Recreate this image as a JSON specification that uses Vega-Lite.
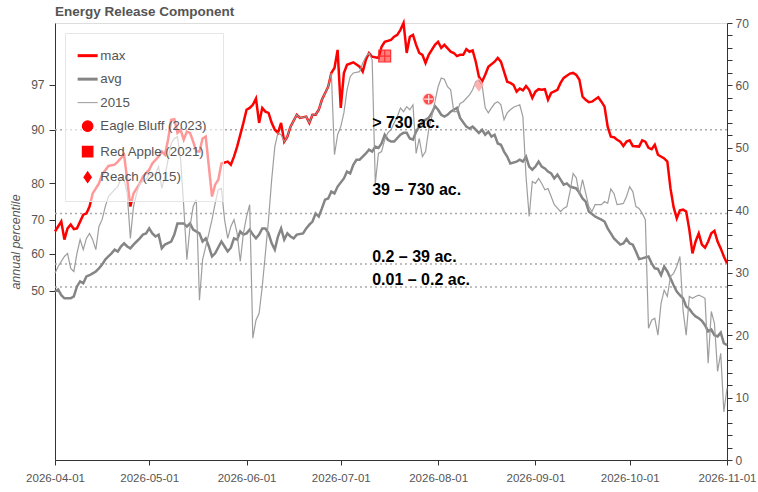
{
"$schema": "https://vega.github.io/schema/vega-lite/v6.json",
"autosize": {"type": "none"},
"padding": {"left": 55, "top": 23, "right": 31, "bottom": 32},
"width": 672,
"height": 437,
"title": {"text": "Energy Release Component", "anchor": "start", "frame": "group", "fontSize": 13.5, "fontWeight": "bold", "color": "#555555", "offset": 6, "dy": 7, "font": "Liberation Sans"},
"config": {
  "view": {"stroke": "#dddddd"},
  "font": "Liberation Sans",
  "axis": {"labelFont": "Liberation Sans", "titleFont": "Liberation Sans", "labelColor": "#555555", "domainColor": "#333333", "tickColor": "#333333", "grid": false}
},
"datasets": {
  "thresholds": [{"erc": 52.9}, {"erc": 39.5}, {"erc": 31.4}, {"erc": 27.7}],
  "labels": [
    {"date": "2026-07-11", "erc": 53.15, "label": "> 730  ac."},
    {"date": "2026-07-11", "erc": 42.5, "label": "39 – 730 ac."},
    {"date": "2026-07-11", "erc": 31.7, "label": "0.2 – 39 ac."},
    {"date": "2026-07-11", "erc": 28.0, "label": "0.01 – 0.2 ac."}
  ],
  "fires": [
    {"date": "2026-07-29", "series": "Eagle Bluff (2023)", "erc": 57.8},
    {"date": "2026-07-15", "series": "Red Apple (2021)", "erc": 64.7},
    {"date": "2026-08-14", "series": "Reach (2015)", "erc": 60.1}
  ],
  "lines": [
{"date":"2026-04-01","series":"max","erc":36.6},{"date":"2026-04-03","series":"max","erc":38.2},{"date":"2026-04-04","series":"max","erc":35.3},{"date":"2026-04-05","series":"max","erc":37.1},{"date":"2026-04-06","series":"max","erc":37.7},{"date":"2026-04-07","series":"max","erc":37.0},{"date":"2026-04-08","series":"max","erc":37.1},{"date":"2026-04-10","series":"max","erc":39.3},{"date":"2026-04-11","series":"max","erc":39.5},{"date":"2026-04-12","series":"max","erc":40.6},{"date":"2026-04-13","series":"max","erc":42.7},{"date":"2026-04-15","series":"max","erc":44.3},{"date":"2026-04-16","series":"max","erc":45.7},{"date":"2026-04-18","series":"max","erc":47.1},{"date":"2026-04-20","series":"max","erc":47.3},{"date":"2026-04-21","series":"max","erc":47.8},{"date":"2026-04-23","series":"max","erc":48.9},{"date":"2026-04-24","series":"max","erc":44.9},{"date":"2026-04-25","series":"max","erc":40.6},{"date":"2026-04-26","series":"max","erc":42.7},{"date":"2026-04-28","series":"max","erc":44.3},{"date":"2026-04-29","series":"max","erc":45.4},
{"date":"2026-05-01","series":"max","erc":46.5},{"date":"2026-05-02","series":"max","erc":47.5},{"date":"2026-05-04","series":"max","erc":48.6},{"date":"2026-05-05","series":"max","erc":49.4},{"date":"2026-05-06","series":"max","erc":48.9},{"date":"2026-05-07","series":"max","erc":51.3},{"date":"2026-05-08","series":"max","erc":54.5},{"date":"2026-05-09","series":"max","erc":54.6},{"date":"2026-05-10","series":"max","erc":52.4},{"date":"2026-05-11","series":"max","erc":52.9},{"date":"2026-05-12","series":"max","erc":51.3},{"date":"2026-05-13","series":"max","erc":52.6},{"date":"2026-05-14","series":"max","erc":52.4},{"date":"2026-05-15","series":"max","erc":51.0},{"date":"2026-05-16","series":"max","erc":49.4},{"date":"2026-05-17","series":"max","erc":49.4},{"date":"2026-05-18","series":"max","erc":51.5},{"date":"2026-05-19","series":"max","erc":51.8},{"date":"2026-05-20","series":"max","erc":47.0},{"date":"2026-05-21","series":"max","erc":42.2},{"date":"2026-05-22","series":"max","erc":44.1},{"date":"2026-05-23","series":"max","erc":44.9},{"date":"2026-05-24","series":"max","erc":47.5},{"date":"2026-05-26","series":"max","erc":47.8},{"date":"2026-05-27","series":"max","erc":47.3},{"date":"2026-05-28","series":"max","erc":48.6},{"date":"2026-05-29","series":"max","erc":50.2},{"date":"2026-05-31","series":"max","erc":54.0},
{"date":"2026-06-01","series":"max","erc":56.1},{"date":"2026-06-02","series":"max","erc":56.4},{"date":"2026-06-03","series":"max","erc":56.9},{"date":"2026-06-04","series":"max","erc":57.9},{"date":"2026-06-05","series":"max","erc":54.0},{"date":"2026-06-06","series":"max","erc":56.4},{"date":"2026-06-07","series":"max","erc":55.8},{"date":"2026-06-08","series":"max","erc":55.6},{"date":"2026-06-09","series":"max","erc":54.0},{"date":"2026-06-10","series":"max","erc":52.9},{"date":"2026-06-11","series":"max","erc":52.4},{"date":"2026-06-12","series":"max","erc":54.0},{"date":"2026-06-13","series":"max","erc":51.0},{"date":"2026-06-14","series":"max","erc":51.8},{"date":"2026-06-15","series":"max","erc":53.4},{"date":"2026-06-17","series":"max","erc":55.3},{"date":"2026-06-18","series":"max","erc":54.8},{"date":"2026-06-20","series":"max","erc":55.0},{"date":"2026-06-21","series":"max","erc":54.0},{"date":"2026-06-22","series":"max","erc":55.3},{"date":"2026-06-23","series":"max","erc":55.3},{"date":"2026-06-24","series":"max","erc":56.1},{"date":"2026-06-25","series":"max","erc":57.7},{"date":"2026-06-27","series":"max","erc":59.8},{"date":"2026-06-28","series":"max","erc":62.0},{"date":"2026-06-29","series":"max","erc":62.8},{"date":"2026-06-30","series":"max","erc":65.7},
{"date":"2026-07-01","series":"max","erc":56.4},{"date":"2026-07-02","series":"max","erc":62.0},{"date":"2026-07-03","series":"max","erc":63.3},{"date":"2026-07-05","series":"max","erc":63.7},{"date":"2026-07-07","series":"max","erc":63.0},{"date":"2026-07-08","series":"max","erc":62.2},{"date":"2026-07-09","series":"max","erc":64.1},{"date":"2026-07-10","series":"max","erc":65.2},{"date":"2026-07-11","series":"max","erc":64.6},{"date":"2026-07-13","series":"max","erc":64.4},{"date":"2026-07-14","series":"max","erc":66.2},{"date":"2026-07-15","series":"max","erc":67.0},{"date":"2026-07-17","series":"max","erc":67.3},{"date":"2026-07-18","series":"max","erc":67.8},{"date":"2026-07-19","series":"max","erc":68.1},{"date":"2026-07-20","series":"max","erc":68.9},{"date":"2026-07-21","series":"max","erc":70.0},{"date":"2026-07-22","series":"max","erc":65.2},{"date":"2026-07-23","series":"max","erc":67.8},{"date":"2026-07-24","series":"max","erc":68.1},{"date":"2026-07-25","series":"max","erc":66.5},{"date":"2026-07-26","series":"max","erc":65.2},{"date":"2026-07-27","series":"max","erc":64.9},{"date":"2026-07-28","series":"max","erc":63.6},{"date":"2026-07-29","series":"max","erc":64.9},{"date":"2026-07-31","series":"max","erc":66.5},
{"date":"2026-08-01","series":"max","erc":67.0},{"date":"2026-08-02","series":"max","erc":66.0},{"date":"2026-08-03","series":"max","erc":66.5},{"date":"2026-08-05","series":"max","erc":65.4},{"date":"2026-08-06","series":"max","erc":65.2},{"date":"2026-08-07","series":"max","erc":64.7},{"date":"2026-08-08","series":"max","erc":64.9},{"date":"2026-08-09","series":"max","erc":64.9},{"date":"2026-08-10","series":"max","erc":65.8},{"date":"2026-08-11","series":"max","erc":65.4},{"date":"2026-08-12","series":"max","erc":65.6},{"date":"2026-08-13","series":"max","erc":63.8},{"date":"2026-08-14","series":"max","erc":61.4},{"date":"2026-08-15","series":"max","erc":60.6},{"date":"2026-08-16","series":"max","erc":61.7},{"date":"2026-08-17","series":"max","erc":63.0},{"date":"2026-08-19","series":"max","erc":63.8},{"date":"2026-08-20","series":"max","erc":64.4},{"date":"2026-08-21","series":"max","erc":63.8},{"date":"2026-08-22","series":"max","erc":62.2},{"date":"2026-08-23","series":"max","erc":60.6},{"date":"2026-08-24","series":"max","erc":60.4},{"date":"2026-08-25","series":"max","erc":60.1},{"date":"2026-08-26","series":"max","erc":59.0},{"date":"2026-08-27","series":"max","erc":59.5},{"date":"2026-08-28","series":"max","erc":59.2},{"date":"2026-08-29","series":"max","erc":59.9},{"date":"2026-08-30","series":"max","erc":59.3},{"date":"2026-08-31","series":"max","erc":58.0},
{"date":"2026-09-01","series":"max","erc":59.0},{"date":"2026-09-02","series":"max","erc":59.4},{"date":"2026-09-03","series":"max","erc":59.3},{"date":"2026-09-04","series":"max","erc":59.4},{"date":"2026-09-05","series":"max","erc":57.7},{"date":"2026-09-06","series":"max","erc":58.8},{"date":"2026-09-08","series":"max","erc":59.3},{"date":"2026-09-09","series":"max","erc":60.4},{"date":"2026-09-10","series":"max","erc":61.2},{"date":"2026-09-12","series":"max","erc":61.9},{"date":"2026-09-13","series":"max","erc":62.0},{"date":"2026-09-14","series":"max","erc":61.7},{"date":"2026-09-15","series":"max","erc":60.9},{"date":"2026-09-16","series":"max","erc":58.2},{"date":"2026-09-17","series":"max","erc":57.7},{"date":"2026-09-18","series":"max","erc":57.3},{"date":"2026-09-19","series":"max","erc":57.4},{"date":"2026-09-21","series":"max","erc":58.1},{"date":"2026-09-22","series":"max","erc":57.4},{"date":"2026-09-23","series":"max","erc":56.6},{"date":"2026-09-24","series":"max","erc":53.4},{"date":"2026-09-25","series":"max","erc":51.8},{"date":"2026-09-26","series":"max","erc":51.7},{"date":"2026-09-27","series":"max","erc":51.3},{"date":"2026-09-28","series":"max","erc":51.0},{"date":"2026-09-29","series":"max","erc":50.3},{"date":"2026-09-30","series":"max","erc":51.0},
{"date":"2026-10-01","series":"max","erc":51.2},{"date":"2026-10-02","series":"max","erc":50.3},{"date":"2026-10-04","series":"max","erc":50.2},{"date":"2026-10-05","series":"max","erc":51.2},{"date":"2026-10-06","series":"max","erc":51.0},{"date":"2026-10-07","series":"max","erc":50.0},{"date":"2026-10-08","series":"max","erc":49.8},{"date":"2026-10-09","series":"max","erc":50.5},{"date":"2026-10-10","series":"max","erc":48.9},{"date":"2026-10-12","series":"max","erc":48.3},{"date":"2026-10-13","series":"max","erc":47.8},{"date":"2026-10-14","series":"max","erc":43.5},{"date":"2026-10-15","series":"max","erc":40.5},{"date":"2026-10-16","series":"max","erc":38.7},{"date":"2026-10-17","series":"max","erc":40.0},{"date":"2026-10-18","series":"max","erc":40.1},{"date":"2026-10-19","series":"max","erc":39.8},{"date":"2026-10-20","series":"max","erc":36.9},{"date":"2026-10-21","series":"max","erc":33.1},{"date":"2026-10-22","series":"max","erc":35.0},{"date":"2026-10-23","series":"max","erc":36.3},{"date":"2026-10-24","series":"max","erc":34.5},{"date":"2026-10-25","series":"max","erc":34.0},{"date":"2026-10-26","series":"max","erc":35.0},{"date":"2026-10-27","series":"max","erc":36.3},{"date":"2026-10-28","series":"max","erc":36.7},{"date":"2026-10-29","series":"max","erc":35.0},{"date":"2026-10-30","series":"max","erc":33.9},{"date":"2026-10-31","series":"max","erc":32.6},{"date":"2026-11-01","series":"max","erc":31.5},

{"date":"2026-04-01","series":"avg","erc":27.0},{"date":"2026-04-02","series":"avg","erc":27.3},{"date":"2026-04-03","series":"avg","erc":26.4},{"date":"2026-04-04","series":"avg","erc":25.9},{"date":"2026-04-06","series":"avg","erc":25.9},{"date":"2026-04-07","series":"avg","erc":26.2},{"date":"2026-04-08","series":"avg","erc":27.8},{"date":"2026-04-09","series":"avg","erc":28.6},{"date":"2026-04-10","series":"avg","erc":28.3},{"date":"2026-04-11","series":"avg","erc":29.4},{"date":"2026-04-12","series":"avg","erc":29.6},{"date":"2026-04-13","series":"avg","erc":29.9},{"date":"2026-04-14","series":"avg","erc":30.2},{"date":"2026-04-15","series":"avg","erc":30.7},{"date":"2026-04-16","series":"avg","erc":31.3},{"date":"2026-04-17","series":"avg","erc":32.1},{"date":"2026-04-18","series":"avg","erc":32.6},{"date":"2026-04-19","series":"avg","erc":33.1},{"date":"2026-04-20","series":"avg","erc":33.7},{"date":"2026-04-21","series":"avg","erc":33.4},{"date":"2026-04-22","series":"avg","erc":34.2},{"date":"2026-04-23","series":"avg","erc":34.7},{"date":"2026-04-24","series":"avg","erc":34.2},{"date":"2026-04-25","series":"avg","erc":33.9},{"date":"2026-04-26","series":"avg","erc":34.5},{"date":"2026-04-27","series":"avg","erc":35.0},{"date":"2026-04-28","series":"avg","erc":35.5},{"date":"2026-04-29","series":"avg","erc":36.1},{"date":"2026-04-30","series":"avg","erc":36.3},
{"date":"2026-05-01","series":"avg","erc":37.1},{"date":"2026-05-02","series":"avg","erc":36.3},{"date":"2026-05-03","series":"avg","erc":35.8},{"date":"2026-05-04","series":"avg","erc":36.1},{"date":"2026-05-05","series":"avg","erc":33.9},{"date":"2026-05-06","series":"avg","erc":34.5},{"date":"2026-05-08","series":"avg","erc":35.0},{"date":"2026-05-09","series":"avg","erc":36.1},{"date":"2026-05-10","series":"avg","erc":37.9},{"date":"2026-05-12","series":"avg","erc":37.9},{"date":"2026-05-13","series":"avg","erc":37.4},{"date":"2026-05-14","series":"avg","erc":37.9},{"date":"2026-05-15","series":"avg","erc":36.9},{"date":"2026-05-17","series":"avg","erc":36.3},{"date":"2026-05-18","series":"avg","erc":35.0},{"date":"2026-05-19","series":"avg","erc":35.5},{"date":"2026-05-20","series":"avg","erc":34.2},{"date":"2026-05-21","series":"avg","erc":32.6},{"date":"2026-05-22","series":"avg","erc":33.1},{"date":"2026-05-24","series":"avg","erc":35.0},{"date":"2026-05-25","series":"avg","erc":34.2},{"date":"2026-05-26","series":"avg","erc":33.4},{"date":"2026-05-27","series":"avg","erc":34.0},{"date":"2026-05-28","series":"avg","erc":35.5},{"date":"2026-05-29","series":"avg","erc":35.3},{"date":"2026-05-30","series":"avg","erc":36.6},{"date":"2026-05-31","series":"avg","erc":36.1},
{"date":"2026-06-01","series":"avg","erc":36.3},{"date":"2026-06-02","series":"avg","erc":36.9},{"date":"2026-06-03","series":"avg","erc":36.1},{"date":"2026-06-04","series":"avg","erc":35.5},{"date":"2026-06-05","series":"avg","erc":36.1},{"date":"2026-06-06","series":"avg","erc":37.1},{"date":"2026-06-07","series":"avg","erc":37.1},{"date":"2026-06-08","series":"avg","erc":36.3},{"date":"2026-06-09","series":"avg","erc":34.7},{"date":"2026-06-10","series":"avg","erc":33.7},{"date":"2026-06-11","series":"avg","erc":35.8},{"date":"2026-06-12","series":"avg","erc":37.1},{"date":"2026-06-13","series":"avg","erc":35.3},{"date":"2026-06-14","series":"avg","erc":36.3},{"date":"2026-06-15","series":"avg","erc":35.8},{"date":"2026-06-16","series":"avg","erc":35.5},{"date":"2026-06-17","series":"avg","erc":36.1},{"date":"2026-06-19","series":"avg","erc":36.3},{"date":"2026-06-20","series":"avg","erc":37.1},{"date":"2026-06-21","series":"avg","erc":37.7},{"date":"2026-06-22","series":"avg","erc":38.2},{"date":"2026-06-23","series":"avg","erc":39.5},{"date":"2026-06-24","series":"avg","erc":39.0},{"date":"2026-06-25","series":"avg","erc":40.3},{"date":"2026-06-26","series":"avg","erc":41.7},{"date":"2026-06-27","series":"avg","erc":41.9},{"date":"2026-06-28","series":"avg","erc":43.0},{"date":"2026-06-29","series":"avg","erc":42.7},{"date":"2026-06-30","series":"avg","erc":43.8},
{"date":"2026-07-02","series":"avg","erc":45.1},{"date":"2026-07-03","series":"avg","erc":46.2},{"date":"2026-07-04","series":"avg","erc":45.9},{"date":"2026-07-05","series":"avg","erc":47.3},{"date":"2026-07-06","series":"avg","erc":48.1},{"date":"2026-07-07","series":"avg","erc":48.1},{"date":"2026-07-08","series":"avg","erc":48.6},{"date":"2026-07-09","series":"avg","erc":49.1},{"date":"2026-07-10","series":"avg","erc":49.7},{"date":"2026-07-11","series":"avg","erc":49.4},{"date":"2026-07-12","series":"avg","erc":50.2},{"date":"2026-07-13","series":"avg","erc":50.0},{"date":"2026-07-14","series":"avg","erc":50.7},{"date":"2026-07-15","series":"avg","erc":52.1},{"date":"2026-07-16","series":"avg","erc":51.3},{"date":"2026-07-17","series":"avg","erc":51.0},{"date":"2026-07-18","series":"avg","erc":51.0},{"date":"2026-07-20","series":"avg","erc":52.1},{"date":"2026-07-21","series":"avg","erc":52.4},{"date":"2026-07-22","series":"avg","erc":52.4},{"date":"2026-07-23","series":"avg","erc":51.5},{"date":"2026-07-24","series":"avg","erc":51.3},{"date":"2026-07-25","series":"avg","erc":52.6},{"date":"2026-07-26","series":"avg","erc":53.4},{"date":"2026-07-27","series":"avg","erc":54.2},{"date":"2026-07-29","series":"avg","erc":54.8},{"date":"2026-07-30","series":"avg","erc":55.6},{"date":"2026-07-31","series":"avg","erc":56.7},
{"date":"2026-08-01","series":"avg","erc":56.1},{"date":"2026-08-02","series":"avg","erc":55.3},{"date":"2026-08-03","series":"avg","erc":55.0},{"date":"2026-08-04","series":"avg","erc":55.3},{"date":"2026-08-05","series":"avg","erc":55.8},{"date":"2026-08-06","series":"avg","erc":56.1},{"date":"2026-08-07","series":"avg","erc":56.4},{"date":"2026-08-08","series":"avg","erc":54.8},{"date":"2026-08-10","series":"avg","erc":53.4},{"date":"2026-08-11","series":"avg","erc":53.1},{"date":"2026-08-12","series":"avg","erc":53.4},{"date":"2026-08-13","series":"avg","erc":52.9},{"date":"2026-08-14","series":"avg","erc":52.4},{"date":"2026-08-15","series":"avg","erc":52.9},{"date":"2026-08-16","series":"avg","erc":52.1},{"date":"2026-08-17","series":"avg","erc":52.6},{"date":"2026-08-18","series":"avg","erc":51.8},{"date":"2026-08-19","series":"avg","erc":52.1},{"date":"2026-08-20","series":"avg","erc":50.7},{"date":"2026-08-21","series":"avg","erc":50.5},{"date":"2026-08-22","series":"avg","erc":49.4},{"date":"2026-08-23","series":"avg","erc":48.6},{"date":"2026-08-24","series":"avg","erc":47.5},{"date":"2026-08-26","series":"avg","erc":47.8},{"date":"2026-08-27","series":"avg","erc":48.1},{"date":"2026-08-28","series":"avg","erc":47.8},{"date":"2026-08-29","series":"avg","erc":48.6},{"date":"2026-08-30","series":"avg","erc":47.0},{"date":"2026-08-31","series":"avg","erc":46.5},
{"date":"2026-09-01","series":"avg","erc":47.0},{"date":"2026-09-02","series":"avg","erc":47.8},{"date":"2026-09-03","series":"avg","erc":47.0},{"date":"2026-09-04","series":"avg","erc":46.7},{"date":"2026-09-05","series":"avg","erc":46.2},{"date":"2026-09-06","series":"avg","erc":45.9},{"date":"2026-09-07","series":"avg","erc":45.1},{"date":"2026-09-08","series":"avg","erc":45.7},{"date":"2026-09-09","series":"avg","erc":44.9},{"date":"2026-09-10","series":"avg","erc":44.1},{"date":"2026-09-11","series":"avg","erc":44.3},{"date":"2026-09-12","series":"avg","erc":43.8},{"date":"2026-09-14","series":"avg","erc":43.5},{"date":"2026-09-15","series":"avg","erc":42.8},{"date":"2026-09-16","series":"avg","erc":41.9},{"date":"2026-09-17","series":"avg","erc":41.4},{"date":"2026-09-18","series":"avg","erc":39.8},{"date":"2026-09-20","series":"avg","erc":39.0},{"date":"2026-09-22","series":"avg","erc":38.5},{"date":"2026-09-23","series":"avg","erc":38.2},{"date":"2026-09-24","series":"avg","erc":37.1},{"date":"2026-09-25","series":"avg","erc":36.3},{"date":"2026-09-26","series":"avg","erc":35.5},{"date":"2026-09-28","series":"avg","erc":34.5},{"date":"2026-09-29","series":"avg","erc":34.7},{"date":"2026-09-30","series":"avg","erc":35.4},
{"date":"2026-10-01","series":"avg","erc":34.7},{"date":"2026-10-02","series":"avg","erc":34.5},{"date":"2026-10-03","series":"avg","erc":33.4},{"date":"2026-10-04","series":"avg","erc":32.2},{"date":"2026-10-05","series":"avg","erc":32.3},{"date":"2026-10-07","series":"avg","erc":32.6},{"date":"2026-10-08","series":"avg","erc":31.5},{"date":"2026-10-09","series":"avg","erc":30.7},{"date":"2026-10-10","series":"avg","erc":30.6},{"date":"2026-10-11","series":"avg","erc":29.6},{"date":"2026-10-12","series":"avg","erc":31.0},{"date":"2026-10-13","series":"avg","erc":30.2},{"date":"2026-10-14","series":"avg","erc":29.1},{"date":"2026-10-15","series":"avg","erc":28.0},{"date":"2026-10-16","series":"avg","erc":27.0},{"date":"2026-10-17","series":"avg","erc":26.4},{"date":"2026-10-18","series":"avg","erc":25.9},{"date":"2026-10-19","series":"avg","erc":24.6},{"date":"2026-10-20","series":"avg","erc":24.2},{"date":"2026-10-21","series":"avg","erc":23.5},{"date":"2026-10-22","series":"avg","erc":23.0},{"date":"2026-10-23","series":"avg","erc":22.7},{"date":"2026-10-24","series":"avg","erc":22.3},{"date":"2026-10-25","series":"avg","erc":21.6},{"date":"2026-10-26","series":"avg","erc":20.6},{"date":"2026-10-27","series":"avg","erc":20.9},{"date":"2026-10-28","series":"avg","erc":20.0},{"date":"2026-10-29","series":"avg","erc":19.8},{"date":"2026-10-30","series":"avg","erc":20.4},{"date":"2026-10-31","series":"avg","erc":18.7},{"date":"2026-11-01","series":"avg","erc":18.4},

{"date":"2026-04-01","series":"2015","erc":29.9},{"date":"2026-04-02","series":"2015","erc":31.0},{"date":"2026-04-04","series":"2015","erc":32.6},{"date":"2026-04-05","series":"2015","erc":33.1},{"date":"2026-04-06","series":"2015","erc":30.7},{"date":"2026-04-07","series":"2015","erc":30.2},{"date":"2026-04-08","series":"2015","erc":33.1},{"date":"2026-04-09","series":"2015","erc":35.3},{"date":"2026-04-10","series":"2015","erc":33.7},{"date":"2026-04-11","series":"2015","erc":35.5},{"date":"2026-04-12","series":"2015","erc":36.3},{"date":"2026-04-13","series":"2015","erc":35.3},{"date":"2026-04-14","series":"2015","erc":33.7},{"date":"2026-04-15","series":"2015","erc":37.4},{"date":"2026-04-16","series":"2015","erc":38.5},{"date":"2026-04-17","series":"2015","erc":40.6},{"date":"2026-04-18","series":"2015","erc":42.2},{"date":"2026-04-20","series":"2015","erc":43.3},{"date":"2026-04-21","series":"2015","erc":43.8},{"date":"2026-04-22","series":"2015","erc":45.1},{"date":"2026-04-23","series":"2015","erc":44.9},{"date":"2026-04-24","series":"2015","erc":42.7},{"date":"2026-04-25","series":"2015","erc":35.5},{"date":"2026-04-26","series":"2015","erc":40.6},{"date":"2026-04-27","series":"2015","erc":42.7},{"date":"2026-04-28","series":"2015","erc":44.3},{"date":"2026-04-30","series":"2015","erc":44.9},
{"date":"2026-05-01","series":"2015","erc":45.9},{"date":"2026-05-02","series":"2015","erc":45.4},{"date":"2026-05-03","series":"2015","erc":45.9},{"date":"2026-05-04","series":"2015","erc":47.0},{"date":"2026-05-05","series":"2015","erc":43.5},{"date":"2026-05-06","series":"2015","erc":45.4},{"date":"2026-05-07","series":"2015","erc":48.1},{"date":"2026-05-08","series":"2015","erc":50.7},{"date":"2026-05-09","series":"2015","erc":51.5},{"date":"2026-05-10","series":"2015","erc":51.8},{"date":"2026-05-11","series":"2015","erc":48.1},{"date":"2026-05-12","series":"2015","erc":40.6},{"date":"2026-05-13","series":"2015","erc":32.1},{"date":"2026-05-14","series":"2015","erc":37.4},{"date":"2026-05-15","series":"2015","erc":40.6},{"date":"2026-05-16","series":"2015","erc":41.7},{"date":"2026-05-17","series":"2015","erc":25.6},{"date":"2026-05-18","series":"2015","erc":32.1},{"date":"2026-05-19","series":"2015","erc":34.2},{"date":"2026-05-20","series":"2015","erc":36.3},{"date":"2026-05-21","series":"2015","erc":38.5},{"date":"2026-05-22","series":"2015","erc":41.1},{"date":"2026-05-23","series":"2015","erc":43.3},{"date":"2026-05-24","series":"2015","erc":43.5},{"date":"2026-05-25","series":"2015","erc":38.5},{"date":"2026-05-26","series":"2015","erc":35.5},{"date":"2026-05-27","series":"2015","erc":37.4},{"date":"2026-05-28","series":"2015","erc":38.5},{"date":"2026-05-29","series":"2015","erc":36.3},{"date":"2026-05-30","series":"2015","erc":31.8},{"date":"2026-05-31","series":"2015","erc":36.3},
{"date":"2026-06-01","series":"2015","erc":39.0},{"date":"2026-06-02","series":"2015","erc":40.9},{"date":"2026-06-03","series":"2015","erc":19.5},{"date":"2026-06-04","series":"2015","erc":22.4},{"date":"2026-06-05","series":"2015","erc":23.5},{"date":"2026-06-06","series":"2015","erc":27.8},{"date":"2026-06-07","series":"2015","erc":33.1},{"date":"2026-06-08","series":"2015","erc":38.5},{"date":"2026-06-09","series":"2015","erc":44.9},{"date":"2026-06-10","series":"2015","erc":50.2},{"date":"2026-06-11","series":"2015","erc":52.4},{"date":"2026-06-12","series":"2015","erc":52.1},{"date":"2026-06-13","series":"2015","erc":51.0},{"date":"2026-06-14","series":"2015","erc":51.8},{"date":"2026-06-15","series":"2015","erc":53.4},{"date":"2026-06-17","series":"2015","erc":55.3},{"date":"2026-06-18","series":"2015","erc":54.8},{"date":"2026-06-20","series":"2015","erc":55.0},{"date":"2026-06-21","series":"2015","erc":54.0},{"date":"2026-06-22","series":"2015","erc":55.3},{"date":"2026-06-23","series":"2015","erc":55.3},{"date":"2026-06-24","series":"2015","erc":56.1},{"date":"2026-06-25","series":"2015","erc":57.7},{"date":"2026-06-27","series":"2015","erc":59.8},{"date":"2026-06-28","series":"2015","erc":62.0},{"date":"2026-06-29","series":"2015","erc":48.9},{"date":"2026-06-30","series":"2015","erc":52.1},
{"date":"2026-07-01","series":"2015","erc":53.4},{"date":"2026-07-02","series":"2015","erc":55.6},{"date":"2026-07-03","series":"2015","erc":59.3},{"date":"2026-07-04","series":"2015","erc":61.4},{"date":"2026-07-05","series":"2015","erc":62.0},{"date":"2026-07-07","series":"2015","erc":62.2},{"date":"2026-07-08","series":"2015","erc":63.6},{"date":"2026-07-09","series":"2015","erc":64.6},{"date":"2026-07-10","series":"2015","erc":65.2},{"date":"2026-07-11","series":"2015","erc":64.1},{"date":"2026-07-12","series":"2015","erc":44.3},{"date":"2026-07-13","series":"2015","erc":49.1},{"date":"2026-07-14","series":"2015","erc":49.4},{"date":"2026-07-15","series":"2015","erc":51.3},{"date":"2026-07-16","series":"2015","erc":52.4},{"date":"2026-07-17","series":"2015","erc":52.9},{"date":"2026-07-18","series":"2015","erc":54.0},{"date":"2026-07-19","series":"2015","erc":55.0},{"date":"2026-07-20","series":"2015","erc":56.4},{"date":"2026-07-21","series":"2015","erc":55.8},{"date":"2026-07-22","series":"2015","erc":56.6},{"date":"2026-07-23","series":"2015","erc":56.1},{"date":"2026-07-24","series":"2015","erc":56.9},{"date":"2026-07-25","series":"2015","erc":49.1},{"date":"2026-07-26","series":"2015","erc":51.5},{"date":"2026-07-27","series":"2015","erc":48.6},{"date":"2026-07-28","series":"2015","erc":49.4},{"date":"2026-07-29","series":"2015","erc":52.9},{"date":"2026-07-30","series":"2015","erc":55.0},{"date":"2026-07-31","series":"2015","erc":57.4},
{"date":"2026-08-01","series":"2015","erc":59.8},{"date":"2026-08-02","series":"2015","erc":61.2},{"date":"2026-08-03","series":"2015","erc":61.0},{"date":"2026-08-04","series":"2015","erc":59.8},{"date":"2026-08-05","series":"2015","erc":59.3},{"date":"2026-08-06","series":"2015","erc":55.8},{"date":"2026-08-07","series":"2015","erc":55.8},{"date":"2026-08-08","series":"2015","erc":57.1},{"date":"2026-08-09","series":"2015","erc":57.4},{"date":"2026-08-11","series":"2015","erc":58.5},{"date":"2026-08-12","series":"2015","erc":59.3},{"date":"2026-08-13","series":"2015","erc":60.6},{"date":"2026-08-14","series":"2015","erc":60.9},{"date":"2026-08-15","series":"2015","erc":60.1},{"date":"2026-08-16","series":"2015","erc":56.4},{"date":"2026-08-17","series":"2015","erc":55.6},{"date":"2026-08-18","series":"2015","erc":56.4},{"date":"2026-08-19","series":"2015","erc":57.1},{"date":"2026-08-20","series":"2015","erc":57.4},{"date":"2026-08-21","series":"2015","erc":56.9},{"date":"2026-08-22","series":"2015","erc":54.5},{"date":"2026-08-23","series":"2015","erc":55.6},{"date":"2026-08-24","series":"2015","erc":56.1},{"date":"2026-08-25","series":"2015","erc":56.5},{"date":"2026-08-26","series":"2015","erc":56.7},{"date":"2026-08-27","series":"2015","erc":56.9},{"date":"2026-08-28","series":"2015","erc":55.0},{"date":"2026-08-29","series":"2015","erc":45.4},{"date":"2026-08-30","series":"2015","erc":39.0},{"date":"2026-08-31","series":"2015","erc":44.6},
{"date":"2026-09-01","series":"2015","erc":44.3},{"date":"2026-09-02","series":"2015","erc":45.1},{"date":"2026-09-03","series":"2015","erc":44.3},{"date":"2026-09-04","series":"2015","erc":43.3},{"date":"2026-09-05","series":"2015","erc":43.5},{"date":"2026-09-06","series":"2015","erc":42.2},{"date":"2026-09-07","series":"2015","erc":40.9},{"date":"2026-09-09","series":"2015","erc":39.8},{"date":"2026-09-10","series":"2015","erc":40.3},{"date":"2026-09-11","series":"2015","erc":40.6},{"date":"2026-09-12","series":"2015","erc":43.0},{"date":"2026-09-13","series":"2015","erc":45.9},{"date":"2026-09-14","series":"2015","erc":45.2},{"date":"2026-09-15","series":"2015","erc":42.5},{"date":"2026-09-16","series":"2015","erc":44.9},{"date":"2026-09-17","series":"2015","erc":42.7},{"date":"2026-09-18","series":"2015","erc":40.6},{"date":"2026-09-19","series":"2015","erc":39.8},{"date":"2026-09-20","series":"2015","erc":40.9},{"date":"2026-09-22","series":"2015","erc":40.9},{"date":"2026-09-23","series":"2015","erc":41.4},{"date":"2026-09-24","series":"2015","erc":41.1},{"date":"2026-09-25","series":"2015","erc":43.4},{"date":"2026-09-26","series":"2015","erc":42.7},{"date":"2026-09-27","series":"2015","erc":40.9},{"date":"2026-09-28","series":"2015","erc":41.0},{"date":"2026-09-29","series":"2015","erc":41.1},{"date":"2026-09-30","series":"2015","erc":42.2},
{"date":"2026-10-01","series":"2015","erc":43.8},{"date":"2026-10-02","series":"2015","erc":43.0},{"date":"2026-10-03","series":"2015","erc":40.6},{"date":"2026-10-04","series":"2015","erc":40.3},{"date":"2026-10-05","series":"2015","erc":39.5},{"date":"2026-10-06","series":"2015","erc":38.5},{"date":"2026-10-07","series":"2015","erc":21.1},{"date":"2026-10-08","series":"2015","erc":22.4},{"date":"2026-10-09","series":"2015","erc":22.7},{"date":"2026-10-10","series":"2015","erc":20.0},{"date":"2026-10-11","series":"2015","erc":25.1},{"date":"2026-10-12","series":"2015","erc":27.2},{"date":"2026-10-13","series":"2015","erc":26.2},{"date":"2026-10-14","series":"2015","erc":29.4},{"date":"2026-10-15","series":"2015","erc":29.9},{"date":"2026-10-16","series":"2015","erc":31.0},{"date":"2026-10-17","series":"2015","erc":32.6},{"date":"2026-10-18","series":"2015","erc":24.0},{"date":"2026-10-19","series":"2015","erc":20.0},{"date":"2026-10-20","series":"2015","erc":26.2},{"date":"2026-10-21","series":"2015","erc":25.9},{"date":"2026-10-22","series":"2015","erc":26.2},{"date":"2026-10-23","series":"2015","erc":26.4},{"date":"2026-10-24","series":"2015","erc":26.2},{"date":"2026-10-25","series":"2015","erc":25.9},{"date":"2026-10-26","series":"2015","erc":15.5},{"date":"2026-10-27","series":"2015","erc":23.8},{"date":"2026-10-28","series":"2015","erc":21.9},{"date":"2026-10-29","series":"2015","erc":14.2},{"date":"2026-10-30","series":"2015","erc":17.1},{"date":"2026-10-31","series":"2015","erc":7.7},{"date":"2026-11-01","series":"2015","erc":11.5}
  ]
},
"layer": [
  {
    "data": {"name": "thresholds"},
    "mark": {"type": "rule", "color": "#aaaaaa", "strokeWidth": 1.5, "strokeDash": [2, 3]},
    "encoding": {
      "y": {"field": "erc", "type": "quantitative",
        "scale": {"domain": [0, 70], "nice": false, "zero": false},
        "axis": {"orient": "left", "values": [27.1, 33, 38.5, 44.3, 52.9, 60.1],
          "labelExpr": "datum.value == 60.1 ? '97' : datum.value == 52.9 ? '90' : datum.value == 44.3 ? '80' : datum.value == 38.5 ? '70' : datum.value == 33 ? '60' : '50'",
          "labelOverlap": false, "tickSize": 6, "labelPadding": 5, "labelFontSize": 12,
          "title": "annual percentile", "titleFontStyle": "italic", "titleFontWeight": "normal", "titleFontSize": 12.5, "titleColor": "#555555", "titlePadding": 8}}
    }
  },
  {
    "encoding": {
      "x": {"field": "date", "type": "temporal",
        "scale": {"type": "utc", "nice": false, "domain": [{"year": 2026, "month": "apr", "date": 1, "utc": true}, {"year": 2026, "month": "nov", "date": 1, "utc": true}]},
        "axis": {"title": null, "format": "%Y-%m-%d", "labelFlush": false, "labelOverlap": false, "labelFontSize": 11.5, "tickSize": 5, "labelPadding": 7,
          "values": [{"year": 2026, "month": "apr", "date": 1, "utc": true}, {"year": 2026, "month": "may", "date": 1, "utc": true}, {"year": 2026, "month": "jun", "date": 1, "utc": true}, {"year": 2026, "month": "jul", "date": 1, "utc": true}, {"year": 2026, "month": "aug", "date": 1, "utc": true}, {"year": 2026, "month": "sep", "date": 1, "utc": true}, {"year": 2026, "month": "oct", "date": 1, "utc": true}, {"year": 2026, "month": "nov", "date": 1, "utc": true}]}},
      "y": {"field": "erc", "type": "quantitative",
        "scale": {"domain": [0, 70], "nice": false, "zero": false},
        "axis": {"orient": "right", "title": null, "values": [0,2,4,6,8,10,12,14,16,18,20,22,24,26,28,30,32,34,36,38,40,42,44,46,48,50,52,54,56,58,60,62,64,66,68,70],
          "labelExpr": "datum.value % 10 === 0 ? datum.label : ''", "labelOverlap": false, "tickSize": 5, "labelPadding": 3, "labelFontSize": 12}}
    },
    "layer": [
      {
        "data": {"name": "lines"},
        "transform": [{"filter": "datum.series === 'max'"}],
        "mark": {"type": "line", "strokeWidth": 2.5},
        "encoding": {
          "color": {"field": "series", "type": "nominal",
            "scale": {"domain": ["max", "avg", "2015", "Eagle Bluff (2023)", "Red Apple (2021)", "Reach (2015)"], "range": ["#ff0000", "#858585", "#999999", "#ff0000", "#ff0000", "#ff0000"]},
            "legend": {"orient": "none", "legendX": 10, "legendY": 10, "title": null,
              "fillColor": "rgba(255,255,255,0.6)", "strokeColor": "#e6e6e6", "padding": 16, "rowPadding": 9.5,
              "labelFontSize": 13.3, "labelColor": "#555555", "labelFont": "Liberation Sans", "labelOffset": 6, "labelLimit": 200, "symbolSize": 400,
              "encode": {"symbols": {"update": {
                "shape": {"signal": "datum.value === 'Eagle Bluff (2023)' ? 'M-1,0A1,1,0,1,0,1,0A1,1,0,1,0,-1,0ZM-0.75,0H0.75M0,-0.75V0.75' : datum.value === 'Red Apple (2021)' ? 'M-1,-1H1V1H-1ZM-1,0H1M0,-1V1' : datum.value === 'Reach (2015)' ? 'M0,-1L0.7,0L0,1L-0.7,0ZM-0.7,0H0.7' : 'stroke'"},
                "size": {"signal": "(datum.value === 'max' || datum.value === 'avg' || datum.value === '2015') ? 400 : 110"},
                "strokeWidth": {"signal": "(datum.value === 'max' || datum.value === 'avg') ? 3 : datum.value === '2015' ? 1 : 1.2"},
                "fill": {"signal": "(datum.value === 'max' || datum.value === 'avg' || datum.value === '2015') ? 'transparent' : datum.value === 'Red Apple (2021)' ? 'rgba(255,0,0,0.3)' : 'rgba(255,30,30,0.75)'"},
                "stroke": {"signal": "datum.value === 'max' ? '#ff0000' : datum.value === 'avg' ? '#858585' : datum.value === '2015' ? '#999999' : datum.value === 'Red Apple (2021)' ? '#ff3030' : datum.value === 'Reach (2015)' ? '#ffb0b0' : '#ffe4e4'"},
                "opacity": {"value": 1}
              }}}
            }}
        }
      },
      {
        "data": {"name": "lines"},
        "transform": [{"filter": "datum.series === 'avg'"}],
        "mark": {"type": "line", "strokeWidth": 2.5},
        "encoding": {"color": {"field": "series", "type": "nominal"}}
      },
      {
        "data": {"name": "lines"},
        "transform": [{"filter": "datum.series === '2015'"}],
        "mark": {"type": "line", "strokeWidth": 1.2, "opacity": 0.95},
        "encoding": {"color": {"field": "series", "type": "nominal"}}
      },
      {
        "data": {"name": "fires"},
        "mark": {"type": "point", "filled": true, "size": 140, "strokeWidth": 1.2, "opacity": 1, "strokeOpacity": 1},
        "encoding": {
          "color": {"field": "series", "type": "nominal"},
          "shape": {"field": "series", "type": "nominal", "legend": null,
            "scale": {"domain": ["Eagle Bluff (2023)", "Red Apple (2021)", "Reach (2015)"], "range": ["M-1,0A1,1,0,1,0,1,0A1,1,0,1,0,-1,0ZM-0.75,0H0.75M0,-0.75V0.75", "M-1,-1H1V1H-1ZM-1,0H1M0,-1V1", "M0,-1L0.7,0L0,1L-0.7,0ZM-0.7,0H0.7"]}},
          "stroke": {"field": "series", "type": "nominal", "legend": null,
            "scale": {"domain": ["Eagle Bluff (2023)", "Red Apple (2021)", "Reach (2015)"], "range": ["#ffe4e4", "#ff3030", "#ffb0b0"]}},
          "fillOpacity": {"field": "series", "type": "nominal", "legend": null,
            "scale": {"domain": ["Eagle Bluff (2023)", "Red Apple (2021)", "Reach (2015)"], "range": [0.7, 0.3, 0.8]}}
        }
      },
      {
        "data": {"name": "labels"},
        "mark": {"type": "text", "align": "left", "baseline": "alphabetic", "font": "Liberation Sans", "fontSize": 16, "fontWeight": "bold", "color": "#000000"},
        "encoding": {"text": {"field": "label", "type": "nominal"}}
      }
    ]
  }
],
"resolve": {"scale": {"y": "independent"}, "axis": {"y": "independent"}}
}
